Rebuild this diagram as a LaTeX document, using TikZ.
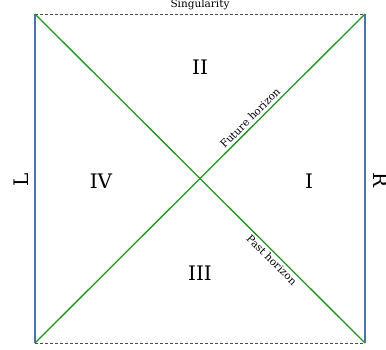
\documentclass[tikz,border=0pt]{standalone}
\usepackage{fontspec}
\setmainfont{DejaVu Serif}
\begin{document}
\begin{tikzpicture}[x=1pt,y=-1pt,
  side/.style={draw=blueL,line width=1.4pt},
  horizon/.style={draw=greenH,line width=1.3pt},
  sing/.style={draw=black!70,line width=0.9pt,dash pattern=on 3pt off 2pt},
  region/.style={font=\fontsize{20}{22}\selectfont},
  small/.style={font=\fontsize{10.5}{12}\selectfont,inner sep=1pt}]
\definecolor{blueL}{RGB}{75,115,170}
\definecolor{greenH}{RGB}{30,150,30}
\useasboundingbox (0,0) rectangle (386,349);
\coordinate (tl) at (35,14);
\coordinate (tr) at (365,14);
\coordinate (bl) at (35,343);
\coordinate (br) at (365,343);
\draw[sing] (tl) -- (tr);
\draw[sing] (bl) -- (br);
\draw[side] (tl) -- (bl);
\draw[side] (tr) -- (br);
\draw[horizon] (bl) -- (tr);
\draw[horizon] (tl) -- (br);
\node[small] (sg) at (200,5) {Singularity};
\node[region] (r2) at (200,67) {II};
\node[region] (r4) at (101,181) {IV};
\node[region] (r1) at (309,181) {I};
\node[region] (r3) at (200,273) {III};
\node[region,rotate=90] (lL) at (21,180) {L};
\node[region,rotate=-90] (lR) at (381,180) {R};
\node[small,rotate=45] (fh) at (250,118) {Future horizon};
\node[small,rotate=-45] (ph) at (272,260) {Past horizon};
\end{tikzpicture}
\end{document}
